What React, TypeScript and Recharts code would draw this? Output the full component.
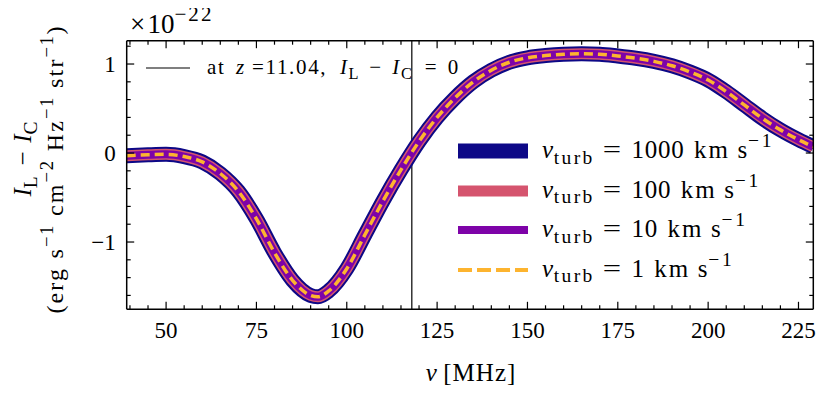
import React from "react";
import { LineChart, Line, XAxis, YAxis, ReferenceLine } from "recharts";

// frequency (MHz) and I_L - I_C (units of 1e-22 erg s^-1 cm^-2 Hz^-1 str^-1)
const nu = [
  39.1, 45, 50, 55, 60, 65, 70, 75, 80, 85, 90, 92, 95, 100, 105, 110, 115, 120,
  125, 130, 135, 140, 145, 150, 155, 160, 165, 170, 175, 180, 185, 190, 195, 200,
  205, 210, 215, 220, 225, 229.1,
];
const deltaI = [
  -0.03, -0.02, -0.015, -0.04, -0.1, -0.23, -0.43, -0.74, -1.12, -1.43, -1.6, -1.615,
  -1.55, -1.3, -0.92, -0.54, -0.19, 0.13, 0.4, 0.62, 0.8, 0.93, 1.02, 1.07, 1.095,
  1.11, 1.115, 1.11, 1.09, 1.065, 1.03, 0.98, 0.91, 0.82, 0.69, 0.54, 0.39, 0.26,
  0.15, 0.07,
];

const xMajor = [50, 75, 100, 125, 150, 175, 200, 225];
const xMinor = [
  40, 45, 55, 60, 65, 70, 80, 85, 90, 95, 105, 110, 115, 120, 130, 135, 140, 145,
  155, 160, 165, 170, 180, 185, 190, 195, 205, 210, 215, 220,
];
const yMajor = [-1, 0, 1];
const yMinor = [-1.6, -1.4, -1.2, -0.8, -0.6, -0.4, -0.2, 0.2, 0.4, 0.6, 0.8, 1.2];
const xDomain = [39.1, 229.1];
const yDomain = [-1.756, 1.262];
const zLineNu = 118;

const vturbLabels = ["1000", "100", "10", "1"];

const series = [
  { key: "v1000", color: "#0d0887", width: 15, legendWidth: 15, dash: undefined as string | undefined, legendDash: undefined as string | undefined },
  { key: "v100", color: "#d5546e", width: 11, legendWidth: 11, dash: undefined, legendDash: undefined },
  { key: "v10", color: "#7e03a8", width: 8, legendWidth: 8, dash: undefined, legendDash: undefined },
  { key: "v1", color: "#fdb42f", width: 3.5, legendWidth: 4, dash: "9 5", legendDash: "14 5" },
];

const data = nu.map((n, i) => ({
  nu: n,
  v1000: deltaI[i],
  v100: deltaI[i],
  v10: deltaI[i],
  v1: deltaI[i],
}));

const FONT = '"Liberation Serif", "DejaVu Serif", serif';
const W = 813;
const H = 377;
const xTicks = [...xMinor, ...xMajor].sort((a, b) => a - b);
const yTicks = [...yMinor, ...yMajor].sort((a, b) => a - b);

const fmt = (v: number) => (v < 0 ? "\u2212" + Math.abs(v) : String(v));

function BottomTick(props: any) {
  const { x, y, payload } = props;
  const major = xMajor.includes(payload.value);
  return (
    <g>
      <line x1={x} x2={x} y1={y} y2={y - (major ? 7.5 : 4)} stroke="#000" strokeWidth={1.2} />
      {major && (
        <text x={x} y={y + 29} textAnchor="middle" fontSize={23} fontFamily={FONT} fill="#000">
          {payload.value}
        </text>
      )}
    </g>
  );
}

function TopTick(props: any) {
  const { x, y, payload } = props;
  const major = xMajor.includes(payload.value);
  return <line x1={x} x2={x} y1={y} y2={y + (major ? 7.5 : 4)} stroke="#000" strokeWidth={1.2} />;
}

function LeftTick(props: any) {
  const { x, y, payload } = props;
  const major = yMajor.includes(payload.value);
  return (
    <g>
      <line x1={x} x2={x + (major ? 7.5 : 4)} y1={y} y2={y} stroke="#000" strokeWidth={1.2} />
      {major && (
        <text x={x - 11} y={y + 8} textAnchor="end" fontSize={23} fontFamily={FONT} fill="#000">
          {fmt(payload.value)}
        </text>
      )}
    </g>
  );
}

function RightTick(props: any) {
  const { x, y, payload } = props;
  const major = yMajor.includes(payload.value);
  return <line x1={x} x2={x - (major ? 7.5 : 4)} y1={y} y2={y} stroke="#000" strokeWidth={1.2} />;
}

type P = { children?: React.ReactNode; ls?: number };
const Sub = ({ children, ls = 0.06 }: P) => (
  <span style={{ fontSize: "0.78em", position: "relative", top: "0.3em", letterSpacing: `${ls}em`, fontStyle: "normal" }}>{children}</span>
);
const Sup = ({ children, ls = 0.08 }: P) => (
  <span style={{ fontSize: "0.78em", position: "relative", top: "-0.55em", letterSpacing: `${ls}em`, fontStyle: "normal" }}>{children}</span>
);
const It = ({ children }: P) => <span style={{ fontStyle: "italic" }}>{children}</span>;
const Gap = ({ w }: { w: number }) => <span style={{ display: "inline-block", width: `${w}em` }} />;

const legendRowY = [143, 182.5, 222, 261.5];

export default function App() {
  return (
    <div style={{ position: "relative", width: W, height: H, fontFamily: FONT, color: "#000" }}>
      <LineChart
        width={W}
        height={H}
        data={data}
        margin={{ top: 31.7, right: 6.7, bottom: 35.7, left: 78.7 }}
      >
        <XAxis
          xAxisId="b"
          type="number"
          dataKey="nu"
          domain={xDomain}
          allowDataOverflow
          ticks={xTicks}
          interval={0}
          height={40}
          tickSize={0}
          tickMargin={0}
          tickLine={false}
          tick={<BottomTick />}
          axisLine={{ stroke: "#000", strokeWidth: 1.5 }}
        />
        <XAxis
          xAxisId="t"
          orientation="top"
          type="number"
          dataKey="nu"
          domain={xDomain}
          allowDataOverflow
          ticks={xTicks}
          interval={0}
          height={1}
          tickSize={0}
          tickMargin={0}
          tickLine={false}
          tick={<TopTick />}
          axisLine={{ stroke: "#000", strokeWidth: 1.5 }}
        />
        <YAxis
          yAxisId="l"
          type="number"
          domain={yDomain}
          allowDataOverflow
          ticks={yTicks}
          interval={0}
          width={40}
          tickSize={0}
          tickMargin={0}
          tickLine={false}
          tick={<LeftTick />}
          axisLine={{ stroke: "#000", strokeWidth: 1.5 }}
        />
        <YAxis
          yAxisId="r"
          orientation="right"
          type="number"
          domain={yDomain}
          allowDataOverflow
          ticks={yTicks}
          interval={0}
          width={1}
          tickSize={0}
          tickMargin={0}
          tickLine={false}
          tick={<RightTick />}
          axisLine={{ stroke: "#000", strokeWidth: 1.5 }}
        />
        <ReferenceLine xAxisId="b" yAxisId="l" x={zLineNu} stroke="#000" strokeWidth={1.2} />
        {series.map((s) => (
          <Line
            key={s.key}
            xAxisId="b"
            yAxisId="l"
            type="monotone"
            dataKey={s.key}
            stroke={s.color}
            strokeWidth={s.width}
            strokeDasharray={s.dash}
            strokeLinecap="butt"
            dot={false}
            activeDot={false}
            isAnimationActive={false}
          />
        ))}
      </LineChart>

      {/* offset text */}
      <div style={{ position: "absolute", left: 122, top: 3, fontSize: 27, lineHeight: "26px", whiteSpace: "nowrap" }}>
        ×<Gap w={0.08} />10<Sup ls={0.1}>−22</Sup>
      </div>

      {/* y label */}
      <div
        style={{
          position: "absolute",
          left: 15,
          top: 150,
          fontSize: 25,
          lineHeight: "25px",
          whiteSpace: "nowrap",
          transform: "translate(-50%, -50%) rotate(-90deg)",
        }}
      >
        <It>I</It>
        <Sub ls={0.1}>L</Sub>
        <Gap w={0.35} />−<Gap w={0.35} />
        <It>I</It>
        <Sub ls={0.1}>C</Sub>
      </div>
      <div
        style={{
          position: "absolute",
          left: 48,
          top: 161,
          fontSize: 24,
          lineHeight: "24px",
          whiteSpace: "nowrap",
          letterSpacing: "0.09em",
          transform: "translate(-50%, -50%) rotate(-90deg)",
        }}
      >
        (erg s<Sup>−1</Sup> cm<Sup>−2</Sup> Hz<Sup>−1</Sup> str<Sup>−1</Sup>)
      </div>

      {/* x label */}
      <div
        style={{
          position: "absolute",
          left: 463,
          top: 352,
          fontSize: 25,
          lineHeight: "25px",
          whiteSpace: "nowrap",
          letterSpacing: "0.04em",
          transform: "translateX(-50%)",
        }}
      >
        <It>ν</It>
        <Gap w={0.22} />
        [MHz]
      </div>

      {/* vertical line legend */}
      <div style={{ position: "absolute", left: 138, top: 50, height: 20, display: "flex", alignItems: "center", whiteSpace: "nowrap" }}>
        <svg width={44} height={20}>
          <line x1={0} x2={44} y1={10} y2={10} stroke="#000" strokeWidth={1.2} />
        </svg>
        <span style={{ marginLeft: 17, fontSize: 21, lineHeight: "20px", letterSpacing: "0.08em" }}>
          at<Gap w={0.5} />
          <It>z</It>
          <Gap w={0.29} />=11.04,<Gap w={0.6} />
          <It>I</It>
          <Sub ls={0.08}>L</Sub>
          <Gap w={0.45} />−<Gap w={0.45} />
          <It>I</It>
          <Sub ls={0.08}>C</Sub>
          <Gap w={0.55} />=<Gap w={0.45} />0
        </span>
      </div>

      {/* series legend */}
      {series.map((s, i) => (
        <div
          key={s.key}
          style={{
            position: "absolute",
            left: 450,
            top: legendRowY[i] - 15,
            height: 30,
            display: "flex",
            alignItems: "center",
            whiteSpace: "nowrap",
          }}
        >
          <svg width={70} height={30}>
            <line x1={0} x2={70} y1={15} y2={15} stroke={s.color} strokeWidth={s.legendWidth} strokeDasharray={s.legendDash} />
          </svg>
          <span style={{ marginLeft: 14, fontSize: 25, lineHeight: "30px", letterSpacing: "0.03em" }}>
            <It>v</It>
            <Sub ls={0.12}>turb</Sub>
            <Gap w={0.32} />
            <span style={{ display: "inline-block", transform: "scaleX(1.3)", margin: "0 0.08em" }}>=</span>
            <Gap w={0.4} />
            {vturbLabels[i]}
            <Gap w={0.38} />
            <span style={{ letterSpacing: "0.08em" }}>km</span>
            <Gap w={0.3} />s<Sup ls={0.15}>−1</Sup>
          </span>
        </div>
      ))}
    </div>
  );
}
